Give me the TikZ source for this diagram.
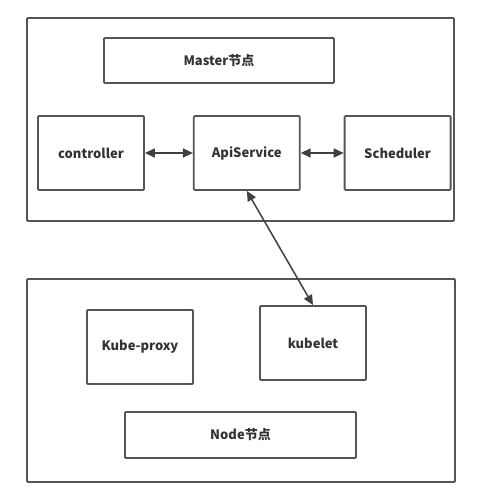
\documentclass[tikz,border=0pt]{standalone}
\usepackage{fontspec}
\setmainfont{Noto Sans CJK SC}
\usetikzlibrary{positioning,arrows.meta}
\definecolor{linegray}{HTML}{555555}
\definecolor{textgray}{HTML}{333333}
\begin{document}
\begin{tikzpicture}[x=1pt,y=-1pt,node distance=50pt,font=\fontsize{13}{15}\selectfont\bfseries]

% Define block styles
\tikzstyle{frame} = [rectangle, draw=linegray, line width=1.8pt, rounded corners=1pt]
\tikzstyle{block} = [rectangle, rounded corners=1pt, minimum width=106pt, minimum height=74pt, text centered, draw=linegray, line width=1.8pt, text=textgray, inner sep=0pt]
\tikzstyle{label} = [block, minimum width=230pt, minimum height=45pt]
\tikzstyle{arrow} = [line width=1.5pt,{Triangle[length=10pt,width=9pt]}-{Triangle[length=10pt,width=9pt]},draw=black!75]

\useasboundingbox (0,0) rectangle (484,495);

% Outer boxes
\node (master) [frame, minimum width=427pt, minimum height=203pt] at (240.5,119.5) {};
\node (worker) [frame, minimum width=428pt, minimum height=203pt] at (241,380.5) {};

% Define nodes
\node (masterlabel) [label] at (219,60.5) {Master节点};
\node (controller) [block] at (91,153) {controller};
\node (api) [block, right=48pt of controller] {ApiService};
\node (scheduler) [block, right=43pt of api] {Scheduler};

\node (kubeproxy) [block] at (140,347) {Kube-proxy};
\node (kubelet) [block] at (313,343) {kubelet};
\node (nodelabel) [label, minimum width=231pt, minimum height=46pt] at (240.5,435) {Node节点};

% Draw arrows
\draw [arrow] (controller.east) -- (api.west);
\draw [arrow] (api.east) -- (scheduler.west);
\draw [arrow] (api.south) -- (kubelet.north);

\end{tikzpicture}
\end{document}
